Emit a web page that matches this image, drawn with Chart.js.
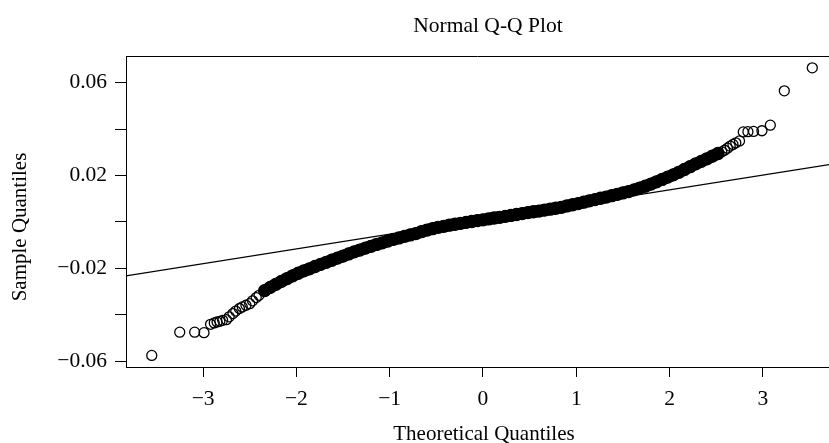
<!DOCTYPE html>
<html>
<head>
<meta charset="utf-8">
<script src="https://cdn.jsdelivr.net/npm/chart.js@4.4.1/dist/chart.umd.min.js"></script>
<style>
  html, body { margin: 0; padding: 0; background: #fff; }
  #wrap { width: 829px; height: 443px; }
</style>
</head>
<body>
<div id="wrap"><canvas id="qq" width="829" height="443"></canvas></div>
<script>
// Normal Q-Q plot: sample quantiles vs theoretical quantiles, with reference line

// lower tail, read point by point
const lowerTailX = [-3.55, -3.25, -3.09, -2.99, -2.92, -2.88, -2.85, -2.82, -2.79, -2.75,
  -2.72, -2.68, -2.65, -2.61, -2.58, -2.54, -2.50, -2.47, -2.43, -2.40];
const lowerTailY = [-0.0575, -0.0475, -0.0475, -0.0477, -0.0441, -0.0435, -0.0431, -0.0428, -0.0424, -0.0421,
  -0.0409, -0.0395, -0.0384, -0.0373, -0.0366, -0.0359, -0.0352, -0.0340, -0.0326, -0.0316];

// dense body of the sample (circles overlap into a solid band)
const bodyX = [-2.34, -2.28, -2.22, -2.16, -2.10, -2.04, -1.98, -1.92, -1.86, -1.80,
  -1.74, -1.68, -1.62, -1.56, -1.50, -1.44, -1.38, -1.32, -1.26, -1.20,
  -1.14, -1.08, -1.02, -0.96, -0.90, -0.84, -0.78, -0.72, -0.66, -0.60,
  -0.54, -0.48, -0.42, -0.36, -0.30, -0.24, -0.18, -0.12, -0.06, 0.00,
  0.06, 0.12, 0.18, 0.24, 0.30, 0.36, 0.42, 0.48, 0.54, 0.60,
  0.66, 0.72, 0.78, 0.84, 0.90, 0.96, 1.02, 1.08, 1.14, 1.20,
  1.26, 1.32, 1.38, 1.44, 1.50, 1.56, 1.62, 1.68, 1.74, 1.80,
  1.86, 1.92, 1.98, 2.04, 2.10, 2.16, 2.22, 2.28, 2.34, 2.40,
  2.46, 2.52];
const bodyY = [-0.0296, -0.0282, -0.0269, -0.0256, -0.0244, -0.0232, -0.0221, -0.0211, -0.0202, -0.0192,
  -0.0183, -0.0174, -0.0165, -0.0156, -0.0147, -0.0138, -0.0129, -0.0121, -0.0113, -0.0105,
  -0.0097, -0.0090, -0.0082, -0.0075, -0.0069, -0.0062, -0.0056, -0.0050, -0.0042, -0.0035,
  -0.0029, -0.0023, -0.0019, -0.0014, -0.0010, -0.0006, -0.0002, 0.0002, 0.0006, 0.0009,
  0.0013, 0.0017, 0.0020, 0.0024, 0.0028, 0.0032, 0.0036, 0.0040, 0.0044, 0.0047,
  0.0051, 0.0055, 0.0059, 0.0063, 0.0069, 0.0074, 0.0079, 0.0085, 0.0091, 0.0096,
  0.0102, 0.0107, 0.0113, 0.0119, 0.0125, 0.0131, 0.0138, 0.0146, 0.0154, 0.0163,
  0.0173, 0.0183, 0.0193, 0.0203, 0.0214, 0.0226, 0.0238, 0.0250, 0.0261, 0.0272,
  0.0284, 0.0295];

// upper tail
const upperTailX = [2.56, 2.59, 2.62, 2.65, 2.68, 2.71, 2.75, 2.79, 2.84, 2.90, 2.99, 3.08, 3.23, 3.53];
const upperTailY = [0.0302, 0.0309, 0.0318, 0.0327, 0.0334, 0.0341, 0.0349, 0.0388, 0.0389, 0.0390, 0.0393, 0.0417, 0.0565, 0.0664];

// reference line end points
const qqLineX = [-3.83, 3.71];
const qqLineY = [-0.0233, 0.0247];

// axes
const xTicks = [-3, -2, -1, 0, 1, 2, 3];
const yTicks = [-0.06, -0.04, -0.02, 0, 0.02, 0.04, 0.06];
const yLabelled = [-0.06, -0.02, 0.02, 0.06];
const xRange = [-3.826, 3.709];
const yRange = [-0.0625, 0.0715];

const SERIF = "'Liberation Serif', 'DejaVu Serif', serif";
const pts = (xs, ys) => xs.map((x, i) => ({ x, y: ys[i] }));
const minus = s => s.replace('-', '\u2212');

const circle = { pointRadius: 5, pointBorderWidth: 1.3, pointBorderColor: '#000',
  pointBackgroundColor: 'rgba(0,0,0,0)', pointHoverRadius: 5 };

// R-like box and text, placed from the scales
const rFrame = {
  id: 'rFrame',
  afterDraw(chart) {
    const { ctx, chartArea: a, scales } = chart;
    const cx = scales.x.getPixelForValue(0) + 1;
    ctx.save();
    ctx.strokeStyle = '#000';
    ctx.lineWidth = 1;
    ctx.beginPath();
    ctx.moveTo(a.left, a.top + 0.5);
    ctx.lineTo(a.right, a.top + 0.5);
    ctx.stroke();

    ctx.fillStyle = '#000';
    ctx.textAlign = 'center';
    ctx.textBaseline = 'alphabetic';
    ctx.font = `21.5px ${SERIF}`;
    ctx.fillText('Normal Q-Q Plot', cx + 4, 32);
    ctx.font = `21px ${SERIF}`;
    ctx.fillText('Theoretical Quantiles', cx, 440);

    ctx.translate(26, 227);
    ctx.rotate(-Math.PI / 2);
    ctx.fillText('Sample Quantiles', 0, 0);
    ctx.restore();
  }
};

const noSidePad = s => { s.paddingLeft = 0; s.paddingRight = 0; };

new Chart(document.getElementById('qq'), {
  type: 'scatter',
  data: {
    datasets: [
      { label: 'qqline', data: pts(qqLineX, qqLineY), showLine: true, borderColor: '#000',
        borderWidth: 1.2, pointRadius: 0, pointHoverRadius: 0, order: 1 },
      { label: 'lower', data: pts(lowerTailX, lowerTailY), ...circle, order: 2 },
      { label: 'body', data: pts(bodyX, bodyY), ...circle, pointRadius: 6, pointHoverRadius: 6,
        pointBackgroundColor: '#000', showLine: true, borderColor: '#000', borderWidth: 12,
        borderCapStyle: 'round', borderJoinStyle: 'round', order: 2 },
      { label: 'upper', data: pts(upperTailX, upperTailY), ...circle, order: 2 },
    ]
  },
  options: {
    responsive: false,
    animation: false,
    layout: { autoPadding: false, padding: { top: 56, right: 0, bottom: 0, left: 0 } },
    plugins: { legend: { display: false }, tooltip: { enabled: false }, title: { display: false } },
    scales: {
      x: {
        type: 'linear',
        min: xRange[0], max: xRange[1],
        afterBuildTicks: s => { s.ticks = xTicks.map(value => ({ value })); },
        afterFit: s => { s.height = 76; noSidePad(s); },
        border: { display: true, color: '#000', width: 1 },
        grid: { drawOnChartArea: false, drawTicks: true, tickLength: 10, color: '#000', lineWidth: 1 },
        ticks: {
          color: '#000', padding: 9, maxRotation: 0, autoSkip: false,
          font: { family: SERIF, size: 21.5 },
          callback: v => minus(String(v))
        }
      },
      y: {
        type: 'linear',
        min: yRange[0], max: yRange[1],
        afterBuildTicks: s => { s.ticks = yTicks.map(value => ({ value })); },
        afterFit: s => { s.width = 126; s.paddingTop = 0; s.paddingBottom = 0; },
        border: { display: true, color: '#000', width: 1 },
        grid: { drawOnChartArea: false, drawTicks: true, tickLength: 11, color: '#000', lineWidth: 1 },
        ticks: {
          color: '#000', padding: 8, autoSkip: false,
          font: { family: SERIF, size: 21.5 },
          callback: v => yLabelled.some(t => Math.abs(t - v) < 1e-9) ? minus(v.toFixed(2)) : ''
        }
      }
    }
  },
  plugins: [rFrame]
});
</script>
</body>
</html>
